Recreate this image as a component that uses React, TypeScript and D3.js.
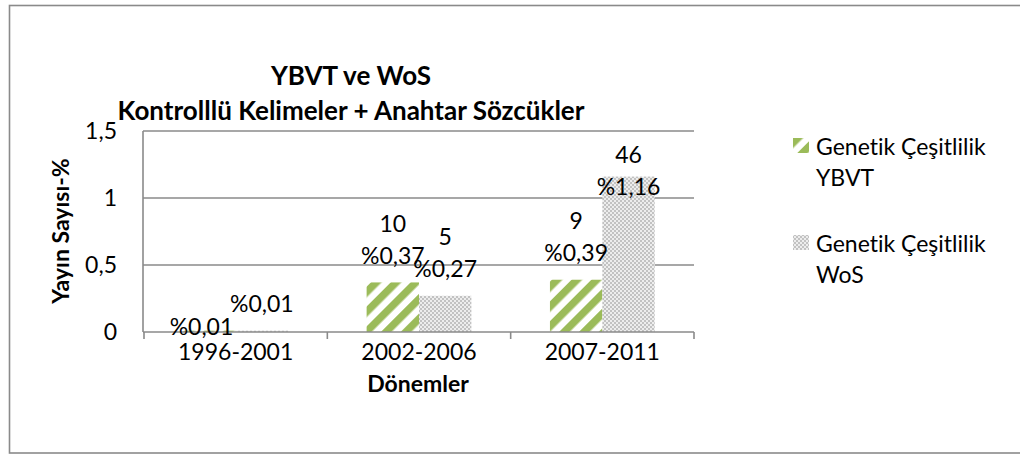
import React from "react";
import * as d3 from "d3";

const categories = ["1996-2001", "2002-2006", "2007-2011"];
const seriesNames = ["Genetik Çeşitlilik YBVT", "Genetik Çeşitlilik WoS"];
const ybvtValues = [0.01, 0.37, 0.39];
const wosValues = [0.01, 0.27, 1.16];
const ybvtCounts: (number | null)[] = [null, 10, 9];
const wosCounts: (number | null)[] = [null, 5, 46];
const yTicks = [0, 0.5, 1, 1.5];
const titleLines = ["YBVT ve WoS", "Kontrolllü Kelimeler + Anahtar Sözcükler"];
const legendLines = [["Genetik Çeşitlilik", "YBVT"], ["Genetik Çeşitlilik", "WoS"]];

const W = 1020;
const H = 455;
const FONT = "Lato, 'Open Sans', sans-serif";
const FS = 23;
const GRID = "#8a8a8a";

const plot = { left: 143, right: 694, top: 131, bottom: 332 };

// manual label nudges (series index, category index) -> [dx, dy]
const labelNudge: Record<string, [number, number]> = { "0-0": [-8, 23] };

function fmt(v: number) {
  return "%" + v.toFixed(2).replace(".", ",");
}

export default function App() {
  const x0 = d3.scaleBand<string>().domain(categories).range([plot.left + 1, plot.right]).paddingInner(0).paddingOuter(0);
  const bw = x0.bandwidth();
  const barW = bw / 3.5;
  const x1 = d3.scaleBand<string>().domain(seriesNames).range([(bw - 2 * barW) / 2, (bw + 2 * barW) / 2]);
  const y = d3.scaleLinear().domain([0, 1.5]).range([plot.bottom, plot.top]);

  const series = [
    { name: seriesNames[0], values: ybvtValues, counts: ybvtCounts, fill: "url(#stripeGreen)" },
    { name: seriesNames[1], values: wosValues, counts: wosCounts, fill: "url(#checkGray)" },
  ];

  const boundaries = [...categories.map((c) => x0(c)!), plot.right];

  return (
    <div style={{ position: "fixed", left: 0, top: 0, width: W, height: H, background: "#fff" }}>
      <svg
        width={W}
        height={H}
        style={{ display: "block", fontFamily: FONT, fontVariantLigatures: "none", fontFeatureSettings: "'liga' 0, 'clig' 0" }}
      >
        <defs>
          <pattern id="stripeGreen" patternUnits="userSpaceOnUse" width="14" height="14" patternTransform="rotate(45)">
            <rect width="14" height="14" fill="#ffffff" />
            <rect x="0" y="0" width="7.5" height="14" fill="#9bbb59" />
          </pattern>
          <pattern id="checkGray" patternUnits="userSpaceOnUse" width="4" height="4">
            <rect width="4" height="4" fill="#ededed" />
            <rect x="0" y="0" width="2" height="2" fill="#c2c2c2" />
            <rect x="2" y="2" width="2" height="2" fill="#c2c2c2" />
          </pattern>
        </defs>

        {/* outer frame */}
        <rect x={9.5} y={5.5} width={W + 10} height={447.5} fill="#fff" stroke={GRID} strokeWidth={1.6} />

        {/* title */}
        <text x={351} textAnchor="middle" fontWeight="bold" fontSize={26} fill="#000">
          <tspan x={351} y={85}>{titleLines[0]}</tspan>
          <tspan x={351} y={120}>{titleLines[1]}</tspan>
        </text>

        {/* gridlines */}
        {yTicks.filter((t) => t > 0).map((t) => (
          <line key={t} x1={plot.left} x2={plot.right} y1={y(t)} y2={y(t)} stroke={GRID} strokeWidth={1.6} />
        ))}

        {/* bars */}
        {series.map((s, si) =>
          categories.map((c, ci) => (
            <rect
              key={`${si}-${ci}`}
              x={x0(c)! + x1(s.name)!}
              y={y(s.values[ci])}
              width={x1.bandwidth()}
              height={y(0) - y(s.values[ci])}
              fill={s.fill}
            />
          ))
        )}

        {/* axes */}
        <line x1={plot.left} x2={plot.left} y1={plot.top} y2={plot.bottom} stroke={GRID} strokeWidth={1.6} />
        <line x1={plot.left} x2={plot.right} y1={plot.bottom} y2={plot.bottom} stroke={GRID} strokeWidth={1.6} />
        {boundaries.map((bx, i) => (
          <line key={i} x1={bx} x2={bx} y1={plot.bottom} y2={plot.bottom + 7} stroke={GRID} strokeWidth={1.6} />
        ))}

        {/* y tick labels */}
        {yTicks.map((t) => (
          <text key={t} x={117} y={y(t)} dy="0.36em" textAnchor="end" fontSize={FS} fill="#000">
            {String(t).replace(".", ",")}
          </text>
        ))}

        {/* x tick labels */}
        {categories.map((c) => (
          <text key={c} x={x0(c)! + bw / 2} y={360} textAnchor="middle" fontSize={FS} fill="#000">
            {c}
          </text>
        ))}

        {/* axis titles */}
        <text x={418} y={392} textAnchor="middle" fontWeight="bold" fontSize={FS} fill="#000">Dönemler</text>
        <text transform={`translate(69,231) rotate(-90)`} textAnchor="middle" fontWeight="bold" fontSize={FS} fill="#000">
          Yayın Sayısı-%
        </text>

        {/* data labels */}
        {series.map((s, si) =>
          categories.map((c, ci) => {
            const v = s.values[ci];
            const cx = x0(c)! + x1(s.name)! + x1.bandwidth() / 2;
            const lines = s.counts[ci] !== null ? [String(s.counts[ci]), fmt(v)] : [fmt(v)];
            let bottomCenter = y(v) - 27;
            const topCenter = bottomCenter - 32 * (lines.length - 1);
            const minTop = plot.top + 24;
            if (topCenter < minTop) bottomCenter += minTop - topCenter;
            const nudge = labelNudge[`${si}-${ci}`] || [0, 0];
            return lines.map((ln, li) => (
              <text
                key={`${si}-${ci}-${li}`}
                x={cx + nudge[0]}
                y={bottomCenter - 32 * (lines.length - 1 - li) + nudge[1]}
                dy="0.36em"
                textAnchor="middle"
                fontSize={FS}
                fill="#000"
              >
                {ln}
              </text>
            ));
          })
        )}

        {/* legend */}
        {series.map((s, i) => {
          const baseY = [155, 252][i];
          return (
            <g key={s.name}>
              <rect x={793} y={baseY - 17} width={16} height={15} fill={s.fill} />
              <text fontSize={FS} fill="#000">
                <tspan x={816} y={baseY}>{legendLines[i][0]}</tspan>
                <tspan x={816} y={baseY + 31}>{legendLines[i][1]}</tspan>
              </text>
            </g>
          );
        })}
      </svg>
    </div>
  );
}
